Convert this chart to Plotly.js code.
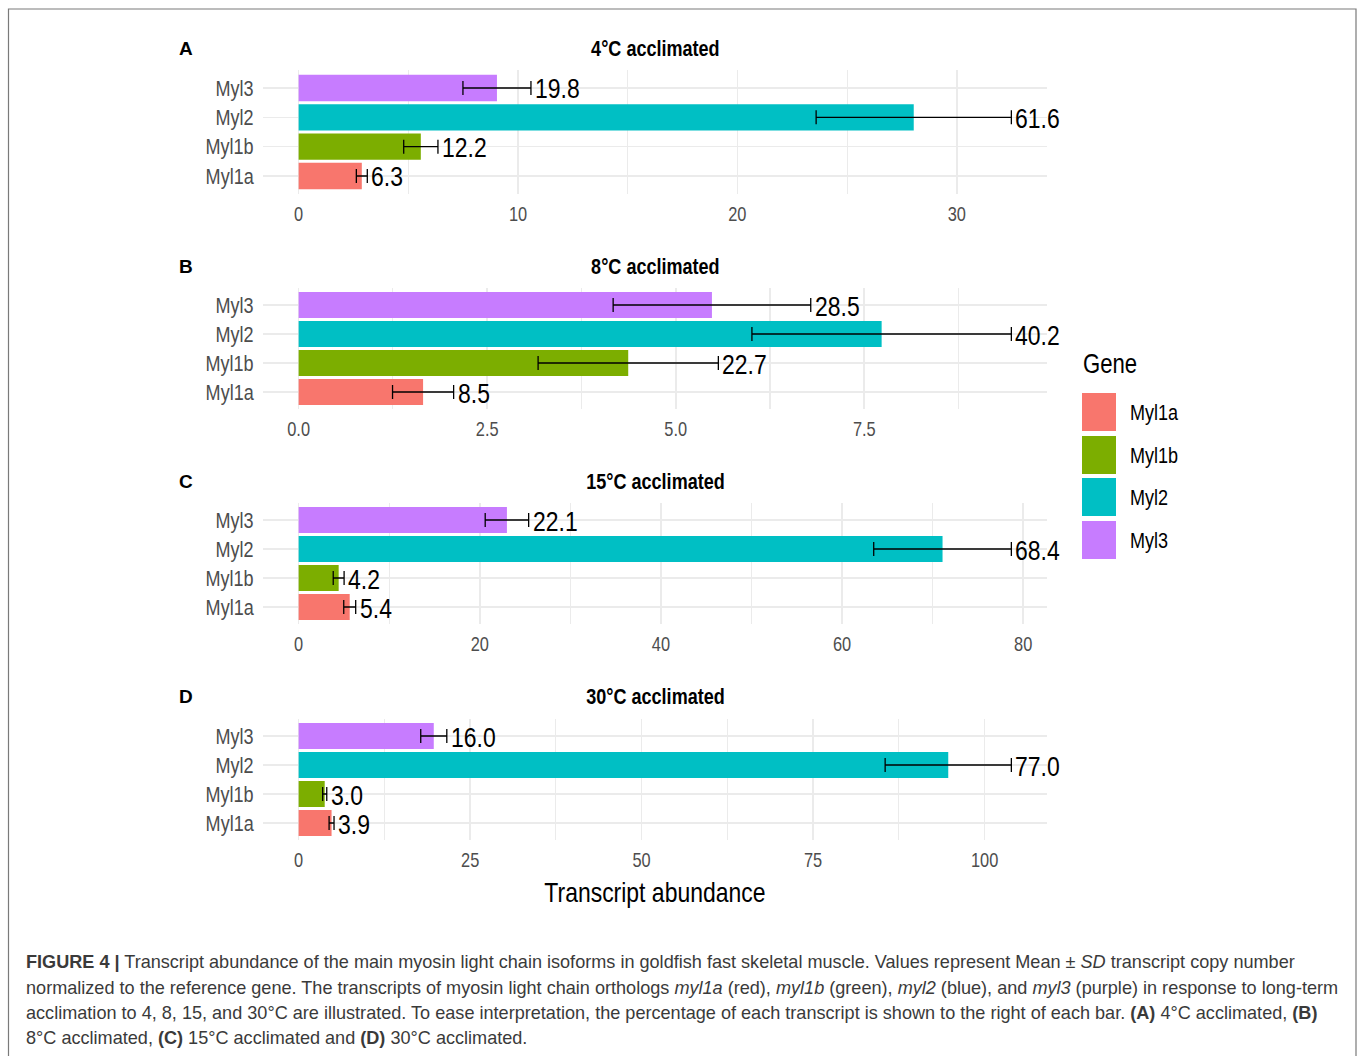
<!DOCTYPE html>
<html><head><meta charset="utf-8">
<script src="https://cdn.plot.ly/plotly-3.0.1.min.js"></script>
<style>html,body{margin:0;padding:0;background:#fff}#chart{width:1360px;height:1056px}</style>
</head><body><div id="chart"></div>
<script>
// ---- data ----
const genes = ["Myl1a", "Myl1b", "Myl2", "Myl3"];
const geneColors = ["#F8766D", "#7CAE00", "#00BFC4", "#C77CFF"];
const panelLetters = ["A", "B", "C", "D"];
const panelTitles = ["4°C acclimated", "8°C acclimated", "15°C acclimated", "30°C acclimated"];

const mean4C = [2.88, 5.57, 28.04, 9.04];
const sd4C = [0.25, 0.78, 4.45, 1.55];
const pct4C = ["6.3", "12.2", "61.6", "19.8"];

const mean8C = [1.65, 4.37, 7.73, 5.48];
const sd8C = [0.405, 1.195, 1.72, 1.31];
const pct8C = ["8.5", "22.7", "40.2", "28.5"];

const mean15C = [5.64, 4.42, 71.1, 23.0];
const sd15C = [0.66, 0.60, 7.6, 2.4];
const pct15C = ["5.4", "4.2", "68.4", "22.1"];

const mean30C = [4.8, 3.8, 94.7, 19.7];
const sd30C = [0.36, 0.30, 9.2, 1.9];
const pct30C = ["3.9", "3.0", "77.0", "16.0"];

const xTickStep = [10, 2.5, 20, 25];
const xTickFormat = ["", ".1f", "", ""];
const xAxisTitle = "Transcript abundance";
const legendTitle = "Gene";
const captionLines = [
  "<b>FIGURE 4 |</b> Transcript abundance of the main myosin light chain isoforms in goldfish fast skeletal muscle. Values represent Mean ± <i>SD</i> transcript copy number",
  "normalized to the reference gene. The transcripts of myosin light chain orthologs <i>myl1a</i> (red), <i>myl1b</i> (green), <i>myl2</i> (blue), and <i>myl3</i> (purple) in response to long-term",
  "acclimation to 4, 8, 15, and 30°C are illustrated. To ease interpretation, the percentage of each transcript is shown to the right of each bar. <b>(A)</b> 4°C acclimated, <b>(B)</b>",
  "8°C acclimated, <b>(C)</b> 15°C acclimated and <b>(D)</b> 30°C acclimated."
];

// ---- layout helpers ----
const W = 1360, H = 1056;
const SANS = "Liberation Sans, Arial, sans-serif";
const SX = 0.82;            // horizontal condensing of the chart lettering
const px = v => v / W;
const py = v => 1 - v / H;

const means = [mean4C, mean8C, mean15C, mean30C];
const sds = [sd4C, sd8C, sd15C, sd30C];
const pcts = [pct4C, pct8C, pct15C, pct30C];

const panelTop = [70.4, 287.6, 502.6, 718.6];
const panelBot = [193.6, 409.4, 624.4, 840.4];
const titleY = [49, 266, 481, 696];
const xDom = [px(263), px(1047)];

const traces = [];
const noCondense = new Set();
const layout = {
  width: W, height: H,
  margin: {l: 0, r: 0, t: 0, b: 0},
  paper_bgcolor: "#fff", plot_bgcolor: "rgba(0,0,0,0)",
  showlegend: false,
  font: {family: SANS, color: "#000"},
  annotations: [], shapes: []
};

for (let p = 0; p < 4; p++) {
  const sfx = p === 0 ? "" : String(p + 1);
  const xa = "x" + sfx, ya = "y" + sfx;
  const hi = means[p].map((m, i) => m + sds[p][i]);
  const M = Math.max(...hi);
  traces.push({
    type: "bar", orientation: "h", x: means[p], y: genes, width: 0.9,
    marker: {color: geneColors, line: {width: 0}},
    error_x: {type: "data", array: sds[p], color: "#000", thickness: 1.3, width: 7},
    xaxis: xa, yaxis: ya, hoverinfo: "skip"
  });
  genes.forEach((g, i) => {
    layout.annotations.push({
      xref: xa, yref: ya, x: hi[i], y: g, text: pcts[p][i],
      xanchor: "left", yanchor: "middle", showarrow: false,
      xshift: 2, yshift: -1,
      font: {family: SANS, size: 28, color: "#000"}
    });
  });
  layout["xaxis" + sfx] = {
    domain: xDom, anchor: ya, range: [-0.05 * M, 1.05 * M],
    dtick: xTickStep[p], tick0: 0, tickformat: xTickFormat[p],
    showgrid: true, gridcolor: "#ebebeb", gridwidth: 1.6,
    minor: {dtick: xTickStep[p] / 2, tick0: 0, showgrid: true, gridcolor: "#ebebeb", gridwidth: 1.1},
    zeroline: false, showline: false,
    ticks: "outside", ticklen: 2, tickcolor: "rgba(0,0,0,0)",
    tickfont: {family: SANS, size: 20, color: "#4d4d4d"},
    fixedrange: true
  };
  layout["yaxis" + sfx] = {
    domain: [py(panelBot[p]), py(panelTop[p])], anchor: xa,
    type: "category", categoryorder: "array", categoryarray: genes,
    range: [-0.6, 3.6],
    showgrid: true, gridcolor: "#ebebeb", gridwidth: 1.6,
    zeroline: false, showline: false,
    ticks: "outside", ticklen: 4, tickcolor: "rgba(0,0,0,0)",
    tickfont: {family: SANS, size: 22, color: "#4d4d4d"},
    fixedrange: true
  };
  layout.annotations.push({
    xref: "paper", yref: "paper", x: px(655), y: py(titleY[p]),
    xanchor: "center", yanchor: "middle", showarrow: false,
    text: "<b>" + panelTitles[p] + "</b>",
    font: {family: SANS, size: 22, color: "#000"}
  });
  noCondense.add(layout.annotations.length);
  layout.annotations.push({
    xref: "paper", yref: "paper", x: px(177), y: py(titleY[p]),
    xanchor: "left", yanchor: "middle", showarrow: false,
    text: "<b>" + panelLetters[p] + "</b>",
    font: {family: SANS, size: 19, color: "#000"}
  });
}

// x axis title
layout.annotations.push({
  xref: "paper", yref: "paper", x: px(655), y: py(892),
  xanchor: "center", yanchor: "middle", showarrow: false,
  text: xAxisTitle, font: {family: SANS, size: 28, color: "#000"}
});

// legend (drawn manually to match the large ggplot keys)
layout.annotations.push({
  xref: "paper", yref: "paper", x: px(1081), y: py(364),
  xanchor: "left", yanchor: "middle", showarrow: false,
  text: legendTitle, font: {family: SANS, size: 27, color: "#000"}
});
const keyCenters = [412, 455, 497, 540];
genes.forEach((g, i) => {
  layout.shapes.push({
    type: "rect", xref: "paper", yref: "paper",
    x0: px(1082), x1: px(1116), y0: py(keyCenters[i] + 19), y1: py(keyCenters[i] - 19),
    fillcolor: geneColors[i], line: {width: 0}
  });
  layout.annotations.push({
    xref: "paper", yref: "paper", x: px(1128), y: py(keyCenters[i]),
    xanchor: "left", yanchor: "middle", showarrow: false,
    text: g, font: {family: SANS, size: 22, color: "#000"}
  });
});

// frame
layout.shapes.push({
  type: "rect", xref: "paper", yref: "paper",
  x0: px(8.5), x1: px(1356), y0: py(1062), y1: py(9),
  line: {color: "#7a7a7a", width: 1.2}, fillcolor: "rgba(0,0,0,0)"
});

// caption
const capY = [962, 988, 1013, 1038];
captionLines.forEach((t, i) => {
  noCondense.add(layout.annotations.length);
  layout.annotations.push({
    xref: "paper", yref: "paper", x: px(24), y: py(capY[i]),
    xanchor: "left", yanchor: "middle", showarrow: false, align: "left",
    text: t, font: {family: SANS, size: 18.1, color: "#3a3a3a"}
  });
});

Plotly.newPlot("chart", traces, layout, {displayModeBar: false, staticPlot: true}).then(gd => {
  // the reference uses a condensed face; squeeze the chart lettering horizontally
  gd.querySelectorAll("svg text").forEach(t => {
    const ann = t.closest("g.annotation");
    let mode;
    if (ann) {
      const idx = +ann.getAttribute("data-index");
      if (noCondense.has(idx)) return;
      const xan = layout.annotations[idx].xanchor;
      mode = xan === "left" ? "start" : xan === "right" ? "end" : "middle";
    } else {
      mode = t.getAttribute("text-anchor") || "start";
    }
    const b = t.getBBox();
    if (!b.width) return;
    const ax = mode === "middle" ? b.x + b.width / 2 : mode === "end" ? b.x + b.width : b.x;
    const prev = t.getAttribute("transform") || "";
    t.setAttribute("transform", prev + " translate(" + ax + ",0) scale(" + SX + ",1) translate(" + (-ax) + ",0)");
  });
});
</script>
</body></html>
